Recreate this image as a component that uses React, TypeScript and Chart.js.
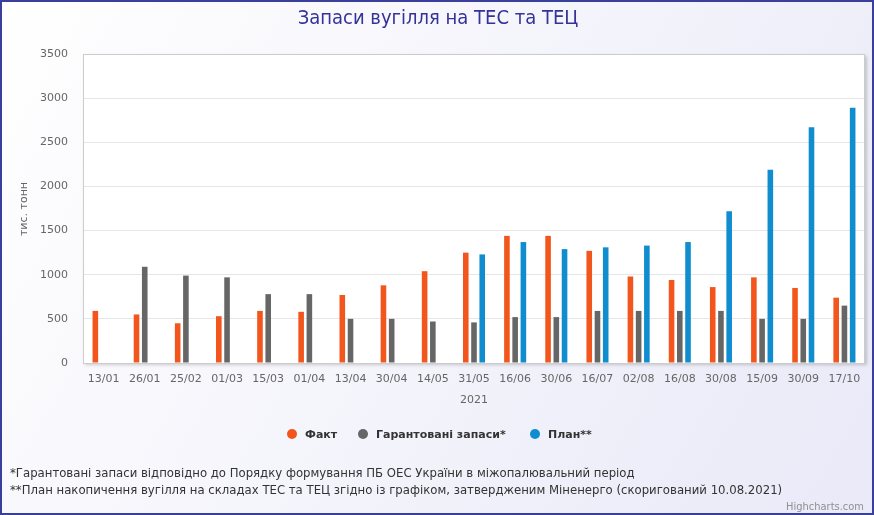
import React, { useEffect, useRef } from "react";
import { Chart, registerables } from "chart.js";

Chart.register(...registerables);

const categories = ["13/01","26/01","25/02","01/03","15/03","01/04","13/04","30/04","14/05","31/05","16/06","30/06","16/07","02/08","16/08","30/08","15/09","30/09","17/10"];
const fact = [590,550,450,530,590,580,770,880,1040,1250,1440,1440,1270,980,940,860,970,850,740];
const guaranteed = [null,1090,990,970,780,780,500,500,470,460,520,520,590,590,590,590,500,500,650];
const plan = [null,null,null,null,null,null,null,null,null,1230,1370,1290,1310,1330,1370,1720,2190,2670,2890];

const seriesNames = ["Факт", "Гарантовані запаси*", "План**"];
const seriesColors = ["#f2561d", "#666666", "#0f8dce"];

const titleText = "Запаси вугілля на ТЕС та ТЕЦ";
const yTitle = "тис. тонн";
const xTitle = "2021";
const footnotes = [
  "*Гарантовані запаси відповідно до Порядку формування ПБ ОЕС України в міжопалювальний період",
  "**План накопичення вугілля на складах ТЕС та ТЕЦ згідно із графіком, затвердженим Міненерго (скоригований 10.08.2021)",
];
const credit = "Highcharts.com";

const W = 874;
const H = 515;
const NARROW = '"Liberation Sans Narrow", "DejaVu Sans Condensed", sans-serif';
const SANS = '"DejaVu Sans", sans-serif';

const decor = {
  id: "decor",
  beforeDraw(chart: any) {
    const ctx = chart.ctx;
    const a = chart.chartArea;
    ctx.save();
    const g = ctx.createLinearGradient(0, 0, W, H);
    g.addColorStop(0, "#ffffff");
    g.addColorStop(1, "#e9e9f8");
    ctx.fillStyle = g;
    ctx.fillRect(0, 0, W, H);
    ctx.strokeStyle = "#3b3f9c";
    ctx.lineWidth = 2;
    ctx.strokeRect(1, 1, W - 2, H - 2);
    ctx.shadowColor = "rgba(0,0,0,0.18)";
    ctx.shadowOffsetX = 2;
    ctx.shadowOffsetY = 2;
    ctx.shadowBlur = 3;
    ctx.fillStyle = "#ffffff";
    ctx.fillRect(a.left, a.top, a.right - a.left, a.bottom - a.top);
    ctx.restore();
  },
  afterDraw(chart: any) {
    const ctx = chart.ctx;
    const a = chart.chartArea;
    ctx.save();
    ctx.strokeStyle = "#cccccc";
    ctx.lineWidth = 1;
    ctx.strokeRect(a.left + 0.5, a.top + 0.5, a.right - a.left - 1, a.bottom - a.top);
    ctx.fillStyle = "#333399";
    ctx.font = `20px ${NARROW}`;
    ctx.textAlign = "center";
    ctx.textBaseline = "middle";
    ctx.fillText(titleText, W / 2 + 1, 19);
    ctx.save();
    ctx.translate(24, 209);
    ctx.rotate(-Math.PI / 2);
    ctx.fillStyle = "#666666";
    ctx.font = `11px ${SANS}`;
    ctx.fillText(yTitle, 0, 0);
    ctx.restore();
    ctx.fillStyle = "#666666";
    ctx.font = `11px ${SANS}`;
    ctx.fillText(xTitle, (a.left + a.right) / 2, 400);
    ctx.font = `bold 11px ${SANS}`;
    ctx.textAlign = "left";
    const xs = [292, 363, 535];
    for (let i = 0; i < 3; i++) {
      ctx.fillStyle = seriesColors[i];
      ctx.beginPath();
      ctx.arc(xs[i], 434, 5, 0, Math.PI * 2);
      ctx.fill();
      ctx.fillStyle = "#333333";
      ctx.fillText(seriesNames[i], xs[i] + 13, 435);
    }
    ctx.fillStyle = "#333333";
    ctx.font = `13px ${NARROW}`;
    ctx.fillText(footnotes[0], 10, 474);
    ctx.fillText(footnotes[1], 10, 491);
    ctx.fillStyle = "#909090";
    ctx.font = `11px ${NARROW}`;
    ctx.textAlign = "right";
    ctx.fillText(credit, 864, 507);
    ctx.restore();
  },
};

export default function App() {
  const ref = useRef<HTMLCanvasElement | null>(null);
  useEffect(() => {
    document.body.style.margin = "0";
    const canvas = ref.current;
    if (!canvas) return;
    const chart = new Chart(canvas, {
      type: "bar",
      data: {
        labels: categories,
        datasets: [
          { label: seriesNames[0], data: fact, backgroundColor: seriesColors[0] },
          { label: seriesNames[1], data: guaranteed, backgroundColor: seriesColors[1] },
          { label: seriesNames[2], data: plan, backgroundColor: seriesColors[2] },
        ],
      },
      options: {
        animation: false,
        responsive: false,
        devicePixelRatio: 1,
        categoryPercentage: 0.6,
        barPercentage: 0.68,
        layout: { padding: { left: 0, right: 9, top: 54, bottom: 100 } },
        plugins: { legend: { display: false }, title: { display: false }, tooltip: { enabled: false } },
        scales: {
          x: {
            grid: { display: false, drawTicks: false },
            border: { display: false },
            ticks: { color: "#666666", font: { family: SANS, size: 11 }, padding: 10, maxRotation: 0, autoSkip: false },
            afterFit: (s: any) => { s.height = 52; },
          },
          y: {
            min: 0,
            max: 3500,
            grid: { color: "#e6e6e6", drawTicks: false },
            border: { display: false },
            ticks: {
              stepSize: 500,
              color: "#666666",
              font: { family: SANS, size: 11 },
              padding: 15,
              callback: (v: any) => String(v),
            },
            afterFit: (s: any) => { s.width = 83; },
          },
        },
      },
      plugins: [decor],
    } as any);
    return () => chart.destroy();
  }, []);
  return <canvas ref={ref} width={W} height={H} style={{ display: "block", width: W, height: H }} />;
}
